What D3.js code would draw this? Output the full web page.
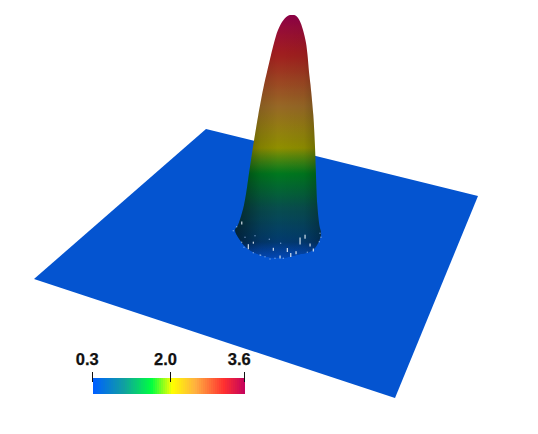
<!DOCTYPE html>
<html><head><meta charset="utf-8">
<script src="https://cdn.jsdelivr.net/npm/d3@7"></script>
<style>html,body{margin:0;background:#fff}svg{display:block}</style></head>
<body><svg id="c" width="538" height="434"></svg>
<script>
// Colour map
const colorValues=[0.3,0.95,1.55,2.0,2.5,3.12,3.6];
const colorStops=["#0060ff","#10a0a0","#00ff40","#ffff00","#ffb040","#ff3030","#c00060"];
const tickValues=[0.3,2.0,3.6];
const tickLabels=["0.3","2.0","3.6"];
// Plane outline
const planeX=[206,478,395,34];
const planeY=[129,196,398,279];
// Peak silhouette walked round from the bottom: surface value and screen x
const outlineValue=[.359,.404,.507,.655,.773,.847,1.145,1.67,2.012,2.397,2.758,2.914,3.119,3.263,3.42,3.54,3.594,3.6,3.594,3.54,3.42,3.263,3.119,2.914,2.758,2.397,2.012,1.67,1.145,.847,.699,.477,.404];
const outlineX=[280,260,246.7,238.5,235,238,244,249.5,253,258.3,264,267,271,274,278,283.5,288.5,292,295.5,299.3,303,306,307.5,309,310.5,313.3,315,315.8,317.3,319.3,321,313,296.7];
// Base bright specks
const speckX=[248.3,300,305,287.3,273.3,290.7,280,241.7,310,313.3,253.3,296];
const speckY=[246.7,241,236.7,250,249.3,255,257,223,245,250,242.7,252.7];
const speckH=[5,7,4,4,3,4,3,3,3,3,2,3];
const dotX=[233.3,236.7,245,241.7,244,253.3,260.7,265,270,275,283.3,307.3,320,321,319.3,269.3,280.7,255,260];
const dotY=[230.7,226.7,237.3,242.3,247.3,252.7,255.3,256.7,259,258.3,258.3,252.3,233.3,237.3,241.7,239.3,243.3,235.7,255];
// Lighting strength on the peak at each value
const lightValues=[0.3,1.55,2.0,3.12,3.6];
const lightLevels=[0.5,0.47,0.56,0.63,0.74];

const svg=d3.select("#c");
const color=d3.scaleLinear().domain(colorValues).range(colorStops);
const light=d3.scaleLinear().domain(lightValues).range(lightLevels);
const yPeak=d3.scaleLinear().domain([3.6,2.0,0.95,0.3]).range([15,148,218,262]);
const yColor=d3.scaleLinear().domain([3.6,2.0,0.95,0.3]).range([15,148,208,258]);
const xBar=d3.scaleLinear().domain([0.3,3.6]).range([93,245]);
const defs=svg.append("defs");

svg.append("polygon")
  .attr("points",planeX.map((x,i)=>x+","+planeY[i]).join(" "))
  .attr("fill","#0454d0");

const dim=v=>{const r=d3.rgb(color(v)),s=light(v);return d3.rgb(r.r*s,r.g*s,r.b*s).formatHex();};
const grad=defs.append("linearGradient").attr("id","vg").attr("gradientUnits","userSpaceOnUse")
  .attr("x1",0).attr("x2",0).attr("y1",yColor(3.6)).attr("y2",yColor(0.3));
d3.range(3.6,0.299,-0.05).forEach(v=>{
  grad.append("stop").attr("offset",(yColor(v)-yColor(3.6))/(yColor(0.3)-yColor(3.6))).attr("stop-color",dim(v));
});
const side=defs.append("linearGradient").attr("id","sg");
[[0,0.45],[0.12,0.32],[0.3,0.1],[0.5,0],[0.8,0.05],[1,0.28]].forEach(d=>
  side.append("stop").attr("offset",d[0]).attr("stop-color","#000").attr("stop-opacity",d[1]));
const fade=defs.append("linearGradient").attr("id","fd").attr("gradientUnits","userSpaceOnUse").attr("x1",0).attr("x2",0).attr("y1",242).attr("y2",259);
fade.append("stop").attr("offset",0).attr("stop-color","#0454d0").attr("stop-opacity",0);
fade.append("stop").attr("offset",1).attr("stop-color","#0454d0").attr("stop-opacity",0.7);

const line=d3.line().x((d,i)=>outlineX[i]).y(d=>yPeak(d)).curve(d3.curveCatmullRomClosed.alpha(0.5));
const peakD=line(outlineValue);
const peak=svg.append("g");
peak.append("path").attr("d",peakD).attr("fill","url(#vg)");
peak.append("path").attr("d",peakD).attr("fill","url(#sg)");
peak.append("path").attr("d",peakD).attr("fill","url(#fd)");

const xId=d3.scaleIdentity(), yId=d3.scaleIdentity();
svg.append("g").selectAll("circle").data(dotX).join("circle")
  .attr("cx",d=>xId(d)).attr("cy",(d,i)=>yId(dotY[i])).attr("r",0.7).attr("fill","#9fc0ee").attr("opacity",.75);
svg.append("g").selectAll("rect").data(speckX).join("rect")
  .attr("x",d=>xId(d)-0.6).attr("y",(d,i)=>yId(speckY[i])-speckH[i]/2).attr("width",1.3)
  .attr("height",(d,i)=>speckH[i]).attr("fill","#e4edf6").attr("opacity",.85);

// Colour bar
const bar=svg.append("g");
const n=76, step=3.3/n;
const barVals=d3.range(n).map(i=>0.3+i*step);
bar.selectAll("rect").data(barVals).join("rect")
  .attr("x",d=>xBar(d)).attr("y",378).attr("width",(d,i)=>i<n-1?152/n+0.5:152/n).attr("height",16)
  .attr("fill",d=>color(d));
const ax=bar.append("g").selectAll("g").data(tickValues).join("g");
ax.append("line").attr("x1",d=>Math.round(xBar(d))-0.5).attr("x2",d=>Math.round(xBar(d))-0.5)
  .attr("y1",372).attr("y2",382).attr("stroke","#111").attr("stroke-width",1);
ax.append("text").attr("x",d=>xBar(d)-5.8).attr("y",364.5).attr("text-anchor","middle")
  .attr("font-family","'Liberation Sans'").attr("font-size",16.5).attr("font-weight",700)
  .attr("stroke","#111").attr("stroke-width",0.25).attr("fill","#111")
  .text((d,i)=>tickLabels[i]);
</script></body></html>
